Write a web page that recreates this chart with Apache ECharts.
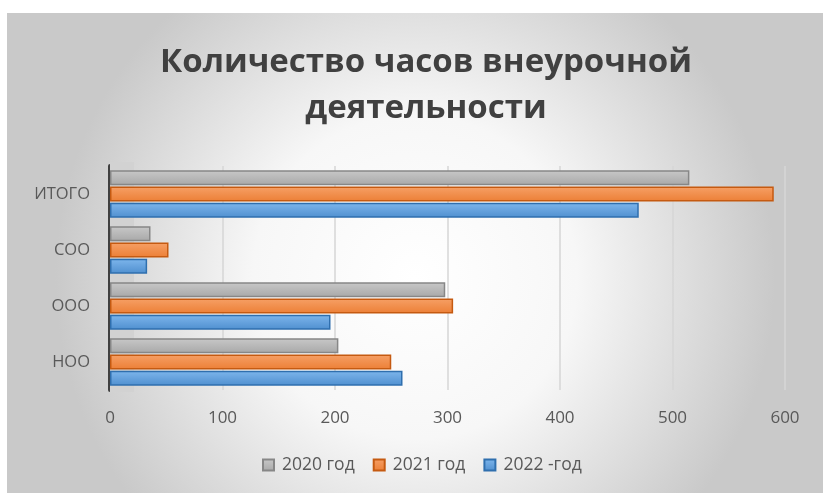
<!DOCTYPE html>
<html>
<head>
<meta charset="utf-8">
<script src="https://cdn.jsdelivr.net/npm/echarts@6/dist/echarts.min.js"></script>
<style>
  html, body { margin: 0; padding: 0; background: #fff; }
  #main { width: 823px; height: 493px; }
</style>
</head>
<body>
<div id="main"></div>
<script>
// categories bottom -> top
const categories = ['НОО', 'ООО', 'СОО', 'ИТОГО'];
const hours2020 = [203, 298, 36, 515];
const hours2021 = [250, 305, 52, 590];
const hours2022 = [260, 196, 33, 470];
const xTicks = [0, 100, 200, 300, 400, 500, 600];

const chart = echarts.init(document.getElementById('main'));

const barStyle = (top, bottom, border) => ({
  color: {
    type: 'linear', x: 0, y: 0, x2: 0, y2: 1,
    colorStops: [{ offset: 0, color: top }, { offset: 1, color: bottom }]
  },
  borderColor: border,
  borderWidth: 1.5
});

chart.setOption({
  animation: false,
  textStyle: { fontFamily: 'Open Sans' },
  graphic: {
    elements: [
      {
        type: 'rect', z: -10, silent: true,
        shape: { x: 7, y: 13, width: 816, height: 480 },
        style: {
          fill: {
            type: 'radial', x: 0.5, y: 0.55, r: 0.75,
            colorStops: [
              { offset: 0, color: '#ffffff' },
              { offset: 0.45, color: '#f7f7f7' },
              { offset: 1, color: '#c9c9c9' }
            ]
          }
        }
      },
      {
        type: 'rect', z: 1, silent: true,
        left: 110, top: 162,
        shape: { width: 24, height: 230 },
        style: { fill: '#d2d2d2' }
      }
    ]
  },
  title: {
    text: 'Количество часов внеурочной\nдеятельности',
    left: 421,
    top: 35,
    textAlign: 'center',
    textStyle: {
      fontFamily: 'Open Sans',
      fontWeight: 'bold',
      fontSize: 33,
      lineHeight: 46,
      color: '#404040'
    }
  },
  legend: {
    bottom: 14,
    left: 257,
    itemWidth: 11,
    itemHeight: 11,
    itemGap: 18,
    icon: 'rect',
    data: ['2020 год', '2021 год', '2022 -год'],
    textStyle: { fontSize: 17.5, color: '#595959', fontFamily: 'Open Sans', padding: [0, 0, 0, 3] }
  },
  grid: { left: 110, right: 38, top: 166, bottom: 103, containLabel: false },
  xAxis: {
    type: 'value',
    min: xTicks[0],
    max: xTicks[xTicks.length - 1],
    interval: 100,
    axisLine: { show: false },
    axisTick: { show: false },
    axisLabel: { fontSize: 17, color: '#595959', margin: 20 },
    splitLine: { lineStyle: { color: '#d6d6d6', width: 1.5 } }
  },
  yAxis: {
    type: 'category',
    data: categories,
    axisLine: { show: true, lineStyle: { color: '#404040', width: 4 } },
    axisTick: { show: false },
    axisLabel: { fontSize: 16.5, color: '#595959', margin: 20 }
  },
  series: [
    {
      name: '2020 год', type: 'bar', data: hours2020,
      barWidth: 15, barGap: '8%', barCategoryGap: '14%',
      itemStyle: barStyle('#c8c8c8', '#a8a8a8', '#878787')
    },
    {
      name: '2021 год', type: 'bar', data: hours2021,
      barWidth: 15, barGap: '8%',
      itemStyle: barStyle('#f6a066', '#ec7f36', '#c55a11')
    },
    {
      name: '2022 -год', type: 'bar', data: hours2022,
      barWidth: 15, barGap: '8%',
      itemStyle: barStyle('#7eb6ec', '#4f8fcf', '#2f6fae')
    }
  ]
});
</script>
</body>
</html>
